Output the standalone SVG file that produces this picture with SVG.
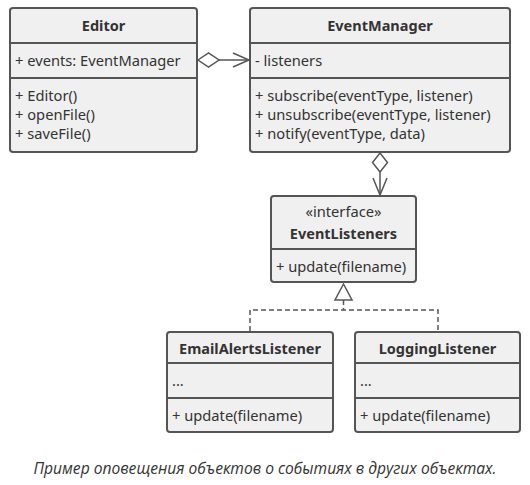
<svg xmlns="http://www.w3.org/2000/svg" width="530" height="485" viewBox="0 0 530 485">
<style>
.box{fill:#f0f0f0;stroke:#555;stroke-width:2}
.ln{stroke:#555;stroke-width:2;fill:none}
.t{font-family:"Noto Sans","Open Sans",sans-serif;font-size:14.7px;fill:#333}
.b{font-weight:bold;text-anchor:middle;font-size:14.5px}
.c{text-anchor:middle}
.conn{stroke:#555;stroke-width:1.5;fill:none}
.dash{stroke-dasharray:5,3}
.cap{font-family:"Open Sans","Noto Sans",sans-serif;font-style:italic;font-size:15.6px;fill:#333;text-anchor:middle}
</style>
<rect width="530" height="485" fill="#fff"/>
<g id="Editor">
<rect class="box" x="10" y="8" width="187" height="144" rx="3"/>
<line class="ln" x1="10" y1="43" x2="197" y2="43"/>
<line class="ln" x1="10" y1="78" x2="197" y2="78"/>
<text class="t b" x="103.5" y="31">Editor</text>
<text class="t" x="15" y="66">+ events: EventManager</text>
<text class="t" x="15" y="101">+ Editor()</text>
<text class="t" x="15" y="120">+ openFile()</text>
<text class="t" x="15" y="139">+ saveFile()</text>
</g>
<g id="EventManager">
<rect class="box" x="250" y="8" width="260" height="144" rx="3"/>
<line class="ln" x1="250" y1="43" x2="510" y2="43"/>
<line class="ln" x1="250" y1="78" x2="510" y2="78"/>
<text class="t b" x="380" y="31">EventManager</text>
<text class="t" x="255" y="66">- listeners</text>
<text class="t" x="255" y="101">+ subscribe(eventType, listener)</text>
<text class="t" x="255" y="120">+ unsubscribe(eventType, listener)</text>
<text class="t" x="255" y="139">+ notify(eventType, data)</text>
</g>
<g id="EventListeners">
<rect class="box" x="271" y="196" width="145" height="86" rx="3"/>
<line class="ln" x1="271" y1="249" x2="416" y2="249"/>
<text class="t c" x="343.5" y="217">«interface»</text>
<text class="t b" x="343.5" y="239">EventListeners</text>
<text class="t" x="276" y="272">+ update(filename)</text>
</g>
<g id="EmailAlertsListener">
<rect class="box" x="167" y="332" width="166" height="100" rx="3"/>
<line class="ln" x1="167" y1="363" x2="333" y2="363"/>
<line class="ln" x1="167" y1="398" x2="333" y2="398"/>
<text class="t b" x="250" y="354">EmailAlertsListener</text>
<text class="t" x="172" y="386">...</text>
<text class="t" x="172" y="421">+ update(filename)</text>
</g>
<g id="LoggingListener">
<rect class="box" x="355" y="332" width="165" height="100" rx="3"/>
<line class="ln" x1="355" y1="363" x2="520" y2="363"/>
<line class="ln" x1="355" y1="398" x2="520" y2="398"/>
<text class="t b" x="437.5" y="354">LoggingListener</text>
<text class="t" x="360" y="386">...</text>
<text class="t" x="360" y="421">+ update(filename)</text>
</g>
<g id="connectors">
<polygon class="conn" points="198,60 208.5,53 219,60 208.5,67" fill="#fff"/>
<line class="conn" x1="219" y1="60" x2="249" y2="60"/>
<polyline class="conn" points="233,53 249,60 233,67"/>
<polygon class="conn" points="380,153 387.5,162.5 380,172 372.5,162.5" fill="#fff"/>
<line class="conn" x1="380" y1="172" x2="380" y2="195"/>
<polyline class="conn" points="373,178 380,195 387,178"/>
<polygon class="conn" points="343.5,284 352,300 335,300" fill="#fff"/>
<polyline class="conn dash" points="343.5,300 343.5,310"/>
<polyline class="conn dash" points="250,331 250,310 438,310 438,331"/>
</g>
<text class="cap" x="265" y="474">Пример оповещения объектов о событиях в других объектах.</text>
</svg>
